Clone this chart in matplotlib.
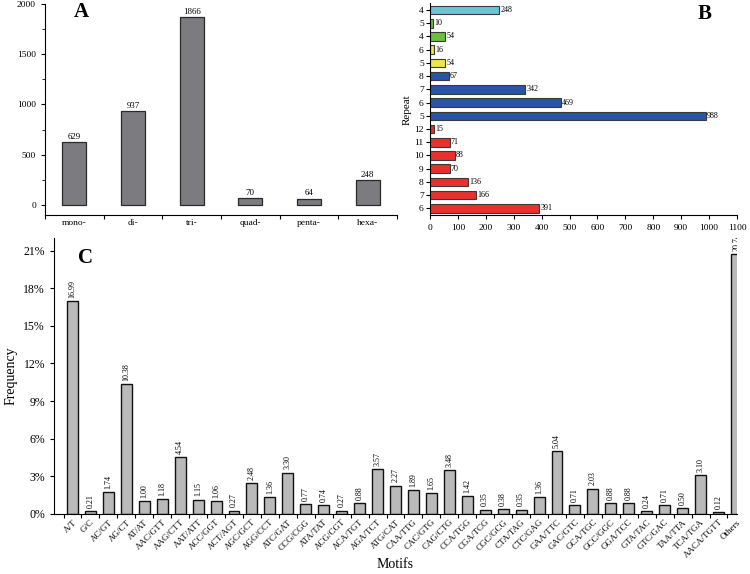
import matplotlib
matplotlib.use("Agg")
import matplotlib.pyplot as plt
import numpy as np
from matplotlib.ticker import FixedLocator

plt.rcParams['font.family'] = ['Liberation Serif', 'DejaVu Serif']

# ---- Panel A data ----
a_types = ["mono-", "di-", "tri-", "quad-", "penta-", "hexa-"]
a_counts = [629, 937, 1866, 70, 64, 248]

# ---- Panel B data (bottom to top) ----
b_repeats = ["6", "7", "8", "9", "10", "11", "12", "5", "6", "7", "8", "5", "6", "4", "5", "4"]
b_values = [391, 166, 136, 70, 88, 71, 15, 988, 469, 342, 67, 54, 16, 54, 10, 248]
b_groups = ["di"] * 7 + ["tri"] * 4 + ["quad"] * 2 + ["penta"] * 2 + ["hexa"]
b_colors = {"di": "#e8302c", "tri": "#2a55a5", "quad": "#ede64a", "penta": "#6dbf3e", "hexa": "#65c9d3"}

# ---- Panel C data ----
c_motifs = ["A/T", "G/C", "AC/GT", "AG/CT", "AT/AT", "AAC/GTT", "AAG/CTT", "AAT/ATT",
            "ACC/GGT", "ACT/AGT", "AGC/GCT", "AGG/CCT", "ATC/GAT", "CCG/CGG", "ATA/TAT",
            "ACG/CGT", "ACA/TGT", "AGA/TCT", "ATG/CAT", "CAA/TTG", "CAC/GTG", "CAG/CTG",
            "CCA/TGG", "CGA/TCG", "CGC/GCG", "CTA/TAG", "CTC/GAG", "GAA/TTC", "GAC/GTC",
            "GCA/TGC", "GCC/GGC", "GGA/TCC", "GTA/TAC", "GTC/GAC", "TAA/TTA", "TCA/TGA",
            "AACA/TGTT", "Others"]
c_freq = [16.99, 0.21, 1.74, 10.38, 1.00, 1.18, 4.54, 1.15, 1.06, 0.27, 2.48, 1.36, 3.30,
          0.77, 0.74, 0.27, 0.88, 3.57, 2.27, 1.89, 1.65, 3.48, 1.42, 0.35, 0.38, 0.35,
          1.36, 5.04, 0.71, 2.03, 0.88, 0.88, 0.24, 0.71, 0.50, 3.10, 0.12, 20.74]

W, H = 750, 574
fig = plt.figure(figsize=(W / 100, H / 100), dpi=100)

def rect(l, r, t, b):
    return [l / W, 1 - b / H, (r - l) / W, (b - t) / H]

tick_fs = 6.8
val_fs = 5.8

# ================= Panel A =================
axA = fig.add_axes(rect(45, 397, 4, 215))
xa = np.arange(len(a_types))
axA.bar(xa, a_counts, width=0.41, color="#7b7b80", edgecolor="#2a2a2a", linewidth=0.9)
for x, v in zip(xa, a_counts):
    axA.text(x, v + 12, str(v), ha="center", va="bottom", fontsize=val_fs + 0.6)
axA.set_xlim(-0.5, 5.5)
axA.set_ylim(-100, 2000)
axA.set_yticks([0, 500, 1000, 1500, 2000])
axA.yaxis.set_minor_locator(FixedLocator([250, 750, 1250, 1750]))
axA.set_xticks(xa)
axA.set_xticklabels(a_types, fontsize=tick_fs)
axA.xaxis.set_minor_locator(FixedLocator(np.arange(-0.5, 6, 1.0)))
axA.tick_params(axis="x", which="major", length=0, pad=3)
axA.tick_params(axis="x", which="minor", length=3, width=0.8, direction="out")
axA.tick_params(axis="y", which="major", labelsize=tick_fs, length=3, width=0.8)
axA.tick_params(axis="y", which="minor", length=2, width=0.6)
for s in ["top", "right"]:
    axA.spines[s].set_visible(False)
axA.text(0.12, 1918, "A", fontsize=15, fontweight="bold", ha="center", va="center")

# ================= Panel B =================
axB = fig.add_axes(rect(430, 737, 3.4, 215))
yb = np.arange(len(b_values))
axB.barh(yb, b_values, height=0.65, color=[b_colors[g] for g in b_groups],
         edgecolor="#3a3a3a", linewidth=0.8)
for y, v in zip(yb, b_values):
    axB.text(v + 4, y, str(v), ha="left", va="center", fontsize=val_fs)
axB.set_xlim(0, 1100)
axB.set_ylim(-0.5, 15.5)
axB.set_yticks(yb)
axB.set_yticklabels(b_repeats, fontsize=tick_fs)
axB.set_xticks(np.arange(0, 1101, 100))
axB.tick_params(axis="x", labelsize=tick_fs, length=3, width=0.8)
axB.tick_params(axis="y", length=3, width=0.8, pad=1.5)
axB.set_ylabel("Repeat", fontsize=8, labelpad=2)
for s in ["top", "right"]:
    axB.spines[s].set_visible(False)
axB.text(0.895, 0.95, "B", fontsize=15, fontweight="bold", ha="center", va="center",
         transform=axB.transAxes)

# ================= Panel C =================
axC = fig.add_axes(rect(54, 737, 238, 514))
xc = np.arange(len(c_motifs))
axC.bar(xc, c_freq, width=0.61, color="#bababa", edgecolor="#111111", linewidth=1.0)
for x, v in zip(xc, c_freq):
    axC.text(x, v + 0.25, f"{v:.2f}", ha="center", va="bottom", rotation=90,
             fontsize=val_fs, clip_on=True)
axC.set_xlim(-1.03, 37.03)
axC.set_ylim(0, 22)
axC.set_yticks(np.arange(0, 22, 3))
axC.set_yticklabels([f"{v}%" for v in range(0, 22, 3)], fontsize=8.5)
axC.set_xticks(xc)
axC.set_xticklabels(c_motifs, rotation=45, ha="right", rotation_mode="anchor",
                    fontsize=6.5)
axC.xaxis.set_minor_locator(FixedLocator(np.arange(-0.5, 38, 1.0)))
axC.tick_params(axis="x", which="major", length=0, pad=3)
axC.tick_params(axis="x", which="minor", length=3, width=0.8)
axC.tick_params(axis="y", length=3, width=0.8)
axC.set_ylabel("Frequency", fontsize=10, labelpad=4)
for s in ["top", "right"]:
    axC.spines[s].set_visible(False)
axC.text(0.75, 20.4, "C", fontsize=15, fontweight="bold", ha="center", va="center")
fig.text(395 / W, 1 - 565 / H, "Motifs", fontsize=10, ha="center", va="center")

fig.savefig("out.png", dpi=100)
